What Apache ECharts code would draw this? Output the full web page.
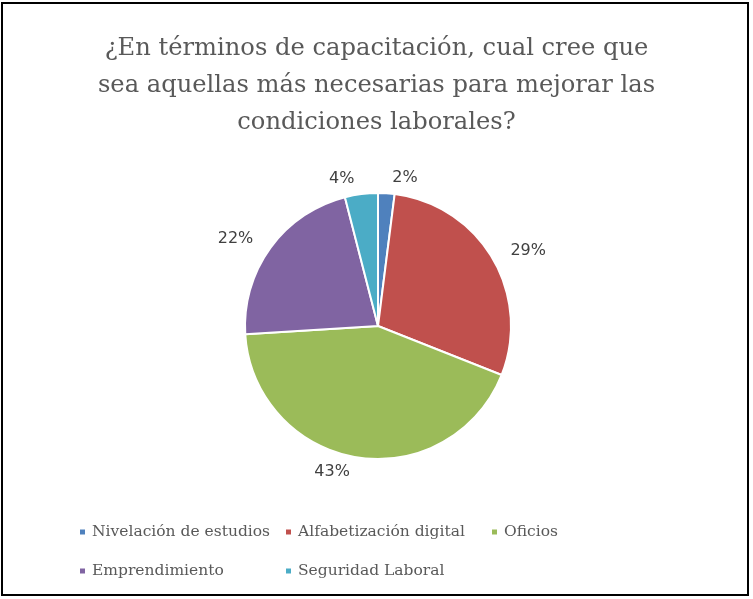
<!DOCTYPE html>
<html>
<head>
<meta charset="utf-8">
<script src="https://cdn.jsdelivr.net/npm/echarts@6/dist/echarts.min.js"></script>
<style>
  html, body { margin: 0; padding: 0; background: #fff; }
  #frame { position: absolute; left: 1px; top: 2px; width: 748px; height: 594px; border: 2px solid #000; box-sizing: border-box; pointer-events: none; }
  #chart { position: absolute; left: 0; top: 0; width: 753px; height: 599px; }
</style>
</head>
<body>
<div id="chart"></div>
<div id="frame"></div>
<script>
// datos de la encuesta (porcentajes)
var categorias = ['Nivelación de estudios', 'Alfabetización digital', 'Oficios', 'Emprendimiento', 'Seguridad Laboral'];
var valores = [2, 29, 43, 22, 4];
var colores = ['#4F81BD', '#C0504D', '#9BBB59', '#8064A2', '#4BACC6'];
var titulo = '¿En términos de capacitación, cual cree que\nsea aquellas más necesarias para mejorar las\ncondiciones laborales?';

var myChart = echarts.init(document.getElementById('chart'));

var datos = [];
for (var i = 0; i < categorias.length; i++) {
	datos.push({ name: categorias[i], value: valores[i], itemStyle: { color: colores[i] } });
}

// leyenda en rejilla: 3 columnas, 2 filas (un legend por entrada)
var leyendas = [];
for (var j = 0; j < categorias.length; j++) {
	leyendas.push({
		data: [categorias[j]],
		left: 78 + (j % 3) * 206,
		top: 524 + Math.floor(j / 3) * 39,
		padding: 0,
		itemWidth: 7,
		itemHeight: 7,
		itemGap: 0,
		icon: 'rect',
		textStyle: {
			fontFamily: 'DejaVu Serif',
			fontSize: 15.5,
			color: '#595959',
			padding: [0, 0, 0, 1]
		}
	});
}

var option = {
	animation: false,
	title: {
		text: titulo,
		left: 'center',
		top: 25,
		textStyle: {
			fontFamily: 'DejaVu Serif',
			fontWeight: 'normal',
			fontSize: 24.2,
			lineHeight: 37,
			color: '#595959'
		}
	},
	legend: leyendas,
	series: [
		{
			type: 'pie',
			center: [378, 326],
			radius: 133,
			startAngle: 90,
			clockwise: true,
			data: datos,
			itemStyle: { borderColor: '#fff', borderWidth: 2 },
			label: {
				show: true,
				position: 'outside',
				formatter: '{c}%',
				fontFamily: 'DejaVu Sans',
				fontSize: 16,
				color: '#404040'
			},
			labelLine: { show: false, length: 15, length2: 0 },
			emphasis: { disabled: true }
		}
	]
};

myChart.setOption(option);
</script>
</body>
</html>
